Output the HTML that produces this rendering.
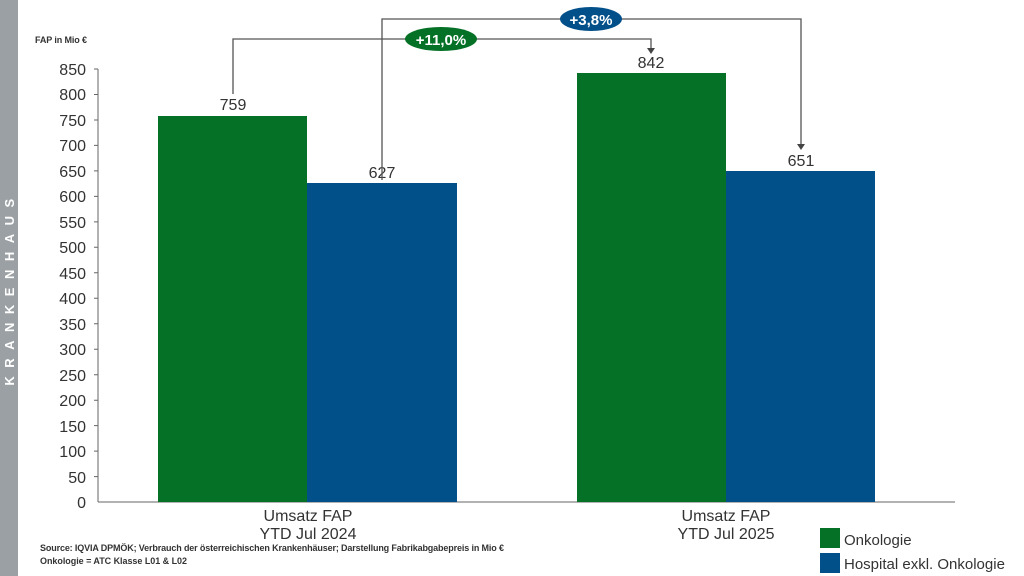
<!DOCTYPE html>
<html><head><meta charset="utf-8"><style>
html,body{margin:0;padding:0;background:#fff;width:1024px;height:576px;overflow:hidden}
</style></head><body>
<svg width="1024" height="576" xmlns="http://www.w3.org/2000/svg" font-family="Liberation Sans, sans-serif">
<rect x="0" y="0" width="18" height="576" fill="#9aa0a3"/>
<text transform="translate(14,288) rotate(-90)" text-anchor="middle" fill="#fff" font-size="13" font-weight="bold" letter-spacing="8.5">KRANKENHAUS</text>
<text x="35" y="43" font-size="9" font-weight="bold" fill="#333" textLength="52">FAP in Mio €</text>
<g font-size="16" fill="#333" text-anchor="end">
<text x="86" y="75">850</text><text x="86" y="100">800</text><text x="86" y="126">750</text><text x="86" y="151">700</text><text x="86" y="177">650</text><text x="86" y="202">600</text><text x="86" y="228">550</text><text x="86" y="253">500</text><text x="86" y="279">450</text><text x="86" y="304">400</text><text x="86" y="330">350</text><text x="86" y="355">300</text><text x="86" y="381">250</text><text x="86" y="406">200</text><text x="86" y="432">150</text><text x="86" y="457">100</text><text x="86" y="483">50</text><text x="86" y="508">0</text>
</g>
<g stroke="#666" stroke-width="1">
<line x1="98" y1="69" x2="98" y2="502"/>
<line x1="98" y1="502" x2="955" y2="502"/>
<path d="M94 69h4M94 94.5h4M94 120h4M94 145.4h4M94 170.9h4M94 196.4h4M94 221.9h4M94 247.3h4M94 272.8h4M94 298.3h4M94 323.7h4M94 349.2h4M94 374.7h4M94 400.2h4M94 425.6h4M94 451.1h4M94 476.6h4"/>
</g>
<rect x="158" y="116" width="149" height="386" fill="#047126"/>
<rect x="307" y="183" width="150" height="319" fill="#02508a"/>
<rect x="577" y="73" width="149" height="429" fill="#047126"/>
<rect x="726" y="171" width="149" height="331" fill="#02508a"/>
<g font-size="16" fill="#333" text-anchor="middle">
<text x="233" y="110">759</text><text x="382" y="178">627</text><text x="651" y="68">842</text><text x="801" y="166">651</text>
<text x="308" y="521">Umsatz FAP</text><text x="308" y="539">YTD Jul 2024</text>
<text x="726" y="521">Umsatz FAP</text><text x="726" y="539">YTD Jul 2025</text>
</g>
<g stroke="#555" stroke-width="1.3" fill="none">
<path d="M233 94V39H651V50"/>
<path d="M382 180V19H801V146"/>
</g>
<path d="M647 48h8l-4 6z" fill="#444"/>
<path d="M797 144h8l-4 6z" fill="#444"/>
<ellipse cx="441" cy="39" rx="36" ry="12" fill="#047126"/>
<text x="441" y="45" font-size="15" font-weight="bold" fill="#fff" text-anchor="middle">+11,0%</text>
<ellipse cx="591" cy="19" rx="31" ry="12" fill="#02508a"/>
<text x="591" y="25" font-size="15" font-weight="bold" fill="#fff" text-anchor="middle">+3,8%</text>
<text x="40" y="551" font-size="9" font-weight="bold" fill="#333" textLength="464">Source: IQVIA DPMÖK; Verbrauch der österreichischen Krankenhäuser; Darstellung Fabrikabgabepreis in Mio €</text>
<text x="40" y="564" font-size="9" font-weight="bold" fill="#333" textLength="147">Onkologie = ATC Klasse L01 &amp; L02</text>
<rect x="820" y="528" width="20" height="20" fill="#047126"/>
<rect x="820" y="553" width="20" height="20" fill="#02508a"/>
<text x="844" y="545" font-size="15" fill="#333">Onkologie</text>
<text x="844" y="569" font-size="15" fill="#333">Hospital exkl. Onkologie</text>
</svg>
</body></html>
